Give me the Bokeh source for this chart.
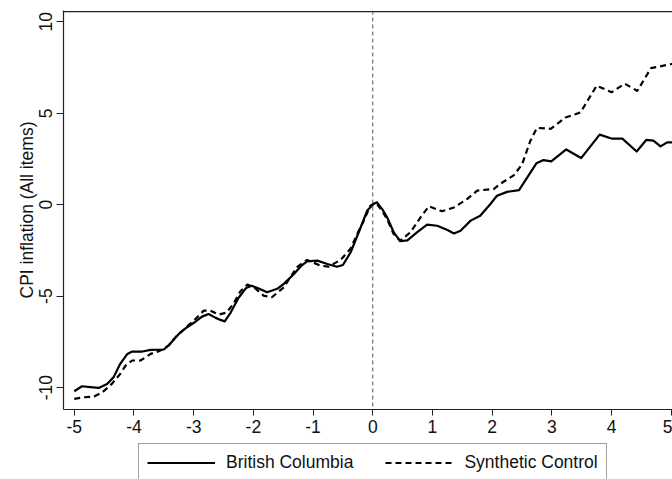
from bokeh.plotting import figure
from bokeh.layouts import column
from bokeh.models import Range1d, Span, Legend, LegendItem, FixedTicker, ColumnDataSource
from bokeh.embed import file_html
from bokeh.resources import INLINE

# Data
bc_x = [-5.0, -4.87, -4.73, -4.59, -4.45, -4.34, -4.23, -4.11, -4.03, -3.86, -3.72, -3.5, -3.42, -3.25,
        -3.11, -2.97, -2.86, -2.75, -2.63, -2.55, -2.48, -2.38, -2.25, -2.12, -2.03, -1.9, -1.77, -1.6,
        -1.49, -1.32, -1.2, -1.1, -0.93, -0.76, -0.6, -0.5, -0.37, -0.21, -0.09, 0.02, 0.07, 0.17, 0.24,
        0.35, 0.46, 0.58, 0.74, 0.91, 1.08, 1.25, 1.36, 1.47, 1.64, 1.8, 1.97, 2.08, 2.25, 2.45, 2.74,
        2.86, 2.99, 3.24, 3.49, 3.8, 4.01, 4.18, 4.42, 4.58, 4.7, 4.82, 4.93, 5.02]
bc_y = [-10.2, -9.93, -9.98, -10.02, -9.8, -9.43, -8.7, -8.16, -8.03, -8.03, -7.94, -7.92, -7.7, -7.07,
        -6.7, -6.4, -6.12, -5.98, -6.19, -6.3, -6.38, -5.9, -5.1, -4.55, -4.43, -4.6, -4.79, -4.6,
        -4.33, -3.79, -3.35, -3.1, -3.06, -3.24, -3.39, -3.3, -2.6, -1.3, -0.3, 0.05, 0.13, -0.3, -0.69,
        -1.5, -2.0, -1.95, -1.51, -1.09, -1.15, -1.38, -1.57, -1.42, -0.87, -0.6, 0.04, 0.49, 0.7, 0.8, 2.26,
        2.44, 2.37, 3.02, 2.55, 3.83, 3.61, 3.61, 2.91, 3.54, 3.5, 3.19, 3.41, 3.41]

sc_x = [-5.0, -4.84, -4.67, -4.53, -4.37, -4.23, -4.14, -4.03, -3.89, -3.72, -3.56, -3.42, -3.28, -3.12,
        -2.97, -2.83, -2.72, -2.58, -2.45, -2.33, -2.22, -2.1, -1.99, -1.83, -1.69, -1.49, -1.27, -1.1,
        -0.88, -0.74, -0.54, -0.37, -0.26, -0.15, -0.04, 0.05, 0.15, 0.24, 0.35, 0.46, 0.63, 0.8, 0.94,
        1.16, 1.36, 1.58, 1.75, 2.03, 2.14, 2.36, 2.5, 2.64, 2.75, 2.98, 3.23, 3.48, 3.75, 4.0, 4.22,
        4.43, 4.66, 4.99, 5.02]
sc_y = [-10.62, -10.53, -10.49, -10.26, -9.8, -9.25, -8.8, -8.52, -8.52, -8.16, -7.98, -7.7, -7.16, -6.7,
        -6.25, -5.79, -5.79, -6.01, -5.9, -5.4, -4.75, -4.37, -4.52, -4.97, -5.06, -4.52, -3.42, -3.02,
        -3.33, -3.39, -3.02, -2.4, -1.6, -0.87, -0.05, 0.12, -0.3, -0.8, -1.6, -1.97, -1.51, -0.69, -0.09,
        -0.36, -0.15, 0.31, 0.77, 0.86, 1.15, 1.6, 2.2, 3.5, 4.2, 4.15, 4.77, 5.05, 6.51, 6.15, 6.62,
        6.22, 7.47, 7.68, 7.7]

x_ticks = [-5, -4, -3, -2, -1, 0, 1, 2, 3, 4, 5]
y_ticks = [-10, -5, 0, 5, 10]
series_names = ["British Columbia", "Synthetic Control"]
y_title = "CPI inflation (All items)"

FONT = "Liberation Sans"
FS = "17.5px"

p = figure(width=672, height=440, output_backend="svg", toolbar_location=None,
           x_range=Range1d(-5.18, 5.02), y_range=Range1d(-11.2, 10.62),
           min_border_left=63, min_border_right=0, min_border_top=10, min_border_bottom=31)
p.background_fill_color = "white"
p.border_fill_color = "white"
p.outline_line_color = None
p.xgrid.visible = False
p.ygrid.visible = False

for ax in (p.xaxis[0], p.yaxis[0]):
    ax.axis_line_color = "#222222"
    ax.axis_line_width = 1.2
    ax.major_tick_line_color = "#222222"
    ax.major_tick_in = 0
    ax.minor_tick_line_color = None
    ax.major_label_text_font = FONT
    ax.major_label_text_font_size = FS
    ax.major_label_text_color = "#111111"
    ax.axis_label_text_font = FONT
    ax.axis_label_text_font_size = FS
    ax.axis_label_text_font_style = "normal"
    ax.axis_label_text_color = "#111111"

p.xaxis.ticker = FixedTicker(ticks=x_ticks)
p.yaxis.ticker = FixedTicker(ticks=y_ticks)
p.xaxis.major_label_overrides = {t: str(t) for t in x_ticks}
p.yaxis.major_label_overrides = {t: str(t) for t in y_ticks}
p.xaxis.major_tick_out = 6
p.yaxis.major_tick_out = 7
p.xaxis.major_label_standoff = 4
p.yaxis.major_label_standoff = 4
p.yaxis.major_label_orientation = "vertical"
p.yaxis.axis_label = y_title
p.yaxis.axis_label_standoff = 0

# top frame line
p.add_layout(Span(location=10.56, dimension="width", line_color="#222222", line_width=1.2))
# vertical reference line at 0
p.add_layout(Span(location=0, dimension="height", line_color="#555555", line_width=1, line_dash="4 3"))

src_bc = ColumnDataSource(dict(x=bc_x, y=bc_y))
src_sc = ColumnDataSource(dict(x=sc_x, y=sc_y))
r_bc = p.line("x", "y", source=src_bc, line_color="black", line_width=2.2, line_join="round")
r_sc = p.line("x", "y", source=src_sc, line_color="black", line_width=2.2, line_dash="6 4")

# Legend strip below the chart (proxy renderers share the data but are hidden)
p2 = figure(width=672, height=39, output_backend="svg", toolbar_location=None,
            x_range=Range1d(0, 1), y_range=Range1d(0, 1),
            x_axis_location=None, y_axis_location=None, min_border=0)
p2.outline_line_color = None
p2.xgrid.visible = False
p2.ygrid.visible = False
p2.background_fill_color = "white"
p2.border_fill_color = "white"
k_bc = p2.line("x", "y", source=src_bc, line_color="black", line_width=2.2, visible=False)
k_sc = p2.line("x", "y", source=src_sc, line_color="black", line_width=2.2, line_dash="6 4", visible=False)

legend = Legend(items=[LegendItem(label=series_names[0], renderers=[k_bc]),
                       LegendItem(label=series_names[1], renderers=[k_sc])],
                orientation="horizontal", location=(75, -3),
                label_text_font=FONT, label_text_font_size=FS, label_text_color="#111111",
                glyph_width=68, glyph_height=17, label_height=17, label_standoff=11,
                spacing=32, padding=8, margin=0,
                border_line_color="#444444", border_line_width=1,
                background_fill_color="white", background_fill_alpha=1)
p2.add_layout(legend, "center")

layout = column(p, p2, spacing=0)
open("out.html", "w").write(file_html(layout, INLINE))
